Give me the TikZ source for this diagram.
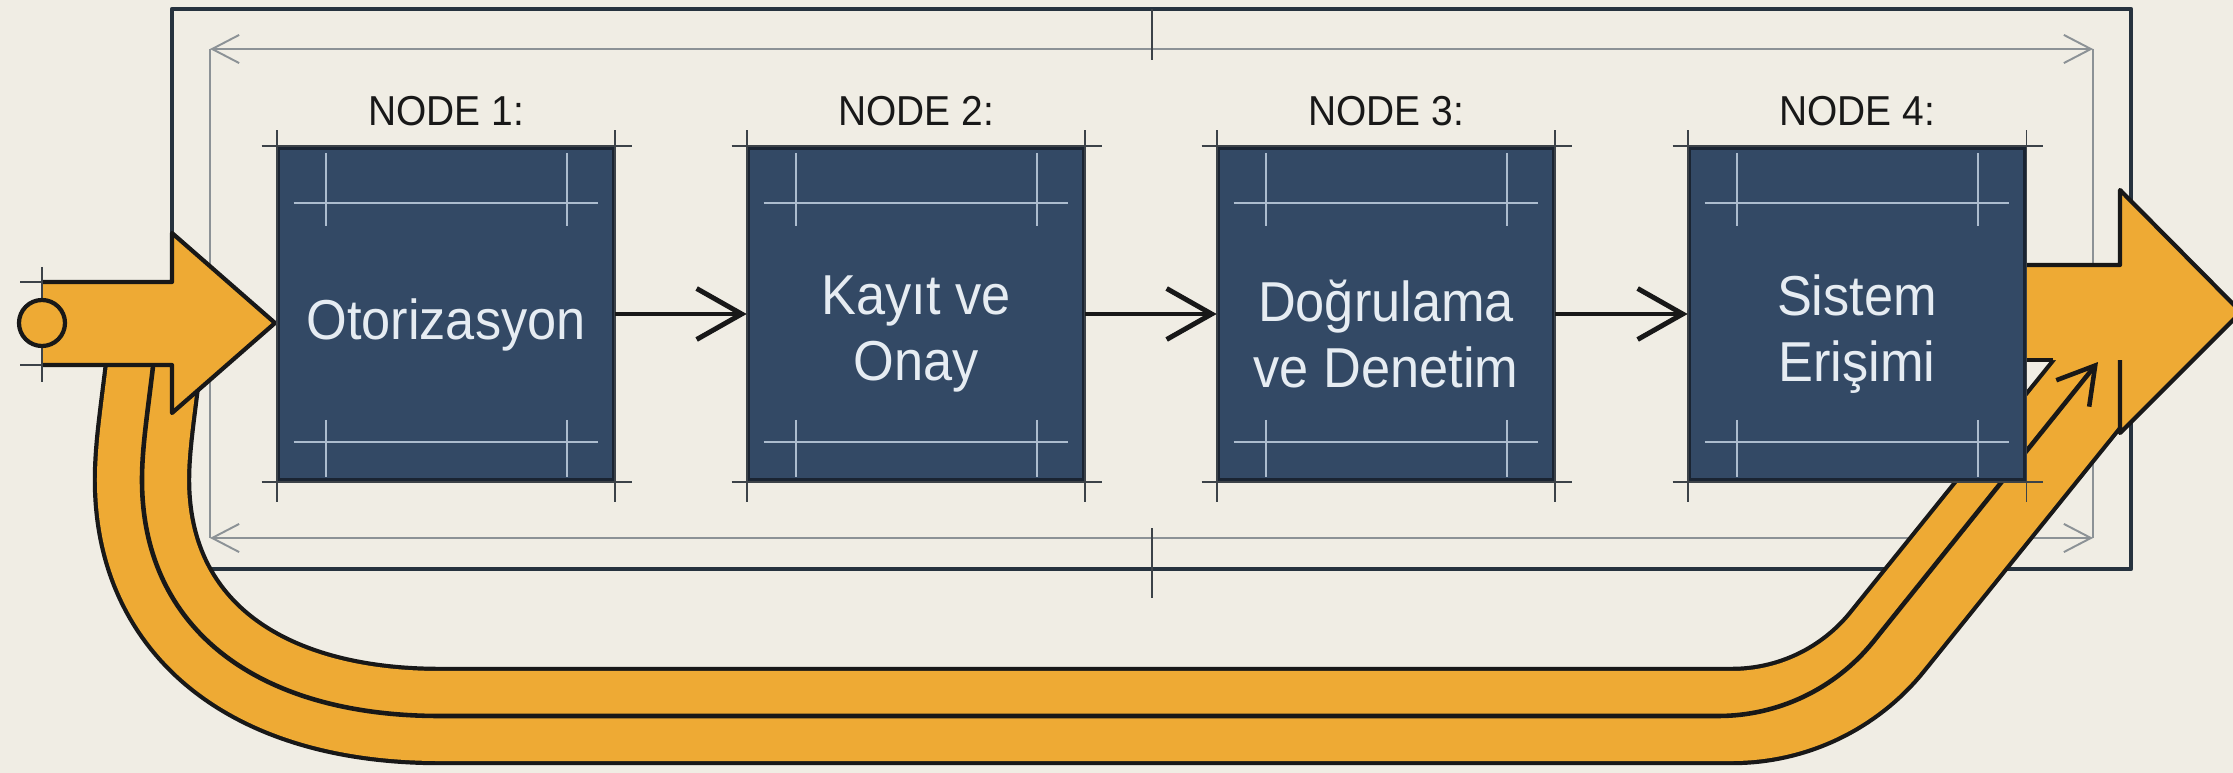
\documentclass[tikz,border=0pt]{standalone}
\usepackage{fontspec}
\setmainfont{Liberation Sans}[FakeStretch=0.93]
\usetikzlibrary{arrows.meta}
\definecolor{bgc}{RGB}{240,237,228}
\definecolor{navy}{RGB}{51,73,101}
\definecolor{navyedge}{RGB}{26,36,50}
\definecolor{decor}{RGB}{172,188,206}
\definecolor{boxtxt}{RGB}{230,236,242}
\definecolor{framec}{RGB}{38,50,62}
\definecolor{guide}{RGB}{140,146,150}
\definecolor{orng}{RGB}{238,170,52}
\definecolor{ink}{RGB}{24,24,24}
\definecolor{cropc}{RGB}{60,66,72}
\begin{document}
\begin{tikzpicture}[x=0.01cm, y=-0.01cm, line join=round,
  stepbox/.style={draw=navyedge, line width=1pt, fill=navy, minimum width=3.35cm, minimum height=3.32cm, inner sep=0pt},
  boxtext/.style={text=boxtxt, align=center, inner sep=0pt, font=\fontsize{16pt}{18.8pt}\selectfont},
  nodelabel/.style={text=ink, inner sep=0pt, font=\fontsize{11.9pt}{14pt}\selectfont},
  flow/.style={draw=ink, line width=1.4pt, -{Straight Barb[length=12.8pt,width=14.5pt,line width=1.4pt]}},
  guideline/.style={draw=guide, line width=0.55pt},
  guidetips/.style={{Straight Barb[length=7.7pt,width=8pt,line width=0.55pt]}-{Straight Barb[length=7.7pt,width=8pt,line width=0.55pt]}},
  tickline/.style={draw=cropc, line width=0.55pt},
  cropline/.style={draw=cropc, line width=0.5pt},
  decorline/.style={draw=decor, line width=0.6pt},
  edge/.style={draw=ink, line width=1.2pt},
  midline/.style={draw=ink, line width=1.3pt, -{Straight Barb[length=10.2pt,width=12pt,line width=1.3pt]}}
]
\useasboundingbox (0,0) rectangle (2233,773);
\fill[bgc] (0,0) rectangle (2233,773);

% frame and guides
\draw[framec, line width=1.3pt] (172,9) rectangle (2131,569);
\draw[guideline] (210,49) -- (210,538);
\draw[guideline] (2093,49) -- (2093,538);
\draw[guideline, guidetips] (210,49) -- (2093,49);
\draw[guideline, guidetips] (210,538) -- (2093,538);
\draw[tickline] (1152,9) -- (1152,60);
\draw[tickline] (1152,528) -- (1152,598);

% orange return band
\def\bandpath{(157,330) .. controls (150,400) and (142,440) .. (142,480) .. controls (142,627) and (255,716) .. (440,716) -- (1732,716) .. controls (1792,716) and (1849,689) .. (1887,642) -- (2119,354)}
\draw[line width=28pt, ink] \bandpath;
\draw[line width=25.6pt, orng] \bandpath;

% big right arrow
\fill[orng] (2000,265) -- (2120,265) -- (2120,190) -- (2241,312) -- (2120,433) -- (2120,360) -- (2000,360) -- cycle;
\draw[edge] (2000,265) -- (2120,265) -- (2120,190) -- (2241,312) -- (2120,433) -- (2120,360);
\draw[edge] (2000,360) -- (2053,360);

% middle line of band
\coordinate (mstart) at (157,330);
\coordinate (mend) at (2098,362);
\draw[midline] (mstart) .. controls (150,400) and (142,440) .. (142,480) .. controls (142,627) and (255,716) .. (440,716) -- (1718,716) .. controls (1778,716) and (1835,689) .. (1873,642) -- (mend);

% left input arrow
\fill[orng] (42,282) -- (172,282) -- (172,233) -- (275,323) -- (172,413) -- (172,365) -- (42,365) -- cycle;
\draw[edge] (42,282) -- (172,282) -- (172,233) -- (275,323) -- (172,413) -- (172,365) -- (42,365);
\draw[cropline] (20,282) -- (42,282) (20,365) -- (42,365) (42,267) -- (42,382);
\node[draw=ink, line width=1.2pt, fill=orng, circle, minimum size=0.46cm, inner sep=0pt] (inport) at (42,323) {};

% boxes
\node[stepbox] (b1) at (446,314) {};
\node[stepbox] (b2) at (916,314) {};
\node[stepbox] (b3) at (1386,314) {};
\node[stepbox] (b4) at (1857,314) {};

\foreach \i in {1,...,4}{
  % crop extensions
  \draw[cropline] ([xshift=-0.15cm]b\i.north west) -- ([xshift=0.17cm]b\i.north east);
  \draw[cropline] ([xshift=-0.15cm]b\i.south west) -- ([xshift=0.17cm]b\i.south east);
  \draw[cropline] ([yshift=0.16cm]b\i.north west) -- ([yshift=-0.2cm]b\i.south west);
  \draw[cropline] ([yshift=0.16cm]b\i.north east) -- ([yshift=-0.2cm]b\i.south east);
  % inner decoration
  \draw[decorline] ([shift={(0.17cm,-0.57cm)}]b\i.north west) -- ([shift={(-0.17cm,-0.57cm)}]b\i.north east);
  \draw[decorline] ([shift={(0.49cm,-0.07cm)}]b\i.north west) -- ([shift={(0.49cm,-0.80cm)}]b\i.north west);
  \draw[decorline] ([shift={(-0.48cm,-0.07cm)}]b\i.north east) -- ([shift={(-0.48cm,-0.80cm)}]b\i.north east);
  \draw[decorline] ([shift={(0.17cm,0.40cm)}]b\i.south west) -- ([shift={(-0.17cm,0.40cm)}]b\i.south east);
  \draw[decorline] ([shift={(0.49cm,0.62cm)}]b\i.south west) -- ([shift={(0.49cm,0.05cm)}]b\i.south west);
  \draw[decorline] ([shift={(-0.48cm,0.62cm)}]b\i.south east) -- ([shift={(-0.48cm,0.05cm)}]b\i.south east);
}

% labels
\node[nodelabel] (l1) at (446,111) {NODE 1:};
\node[nodelabel] (l2) at (916,111) {NODE 2:};
\node[nodelabel] (l3) at (1386,111) {NODE 3:};
\node[nodelabel] (l4) at (1857,111) {NODE 4:};

\node[boxtext] (t1) at (446,325) {Otorizasyon};
\node[boxtext] (t2) at (916,334) {Kayıt ve\\Onay};
\node[boxtext] (t3) at (1386,334) {Doğrulama\\ve Denetim};
\node[boxtext] (t4) at (1857,334) {Sistem\\Erişimi};

% flow arrows
\draw[flow] (b1) -- (b2);
\draw[flow] (b2) -- (b3);
\draw[flow] (b3) -- (b4);
\end{tikzpicture}
\end{document}
